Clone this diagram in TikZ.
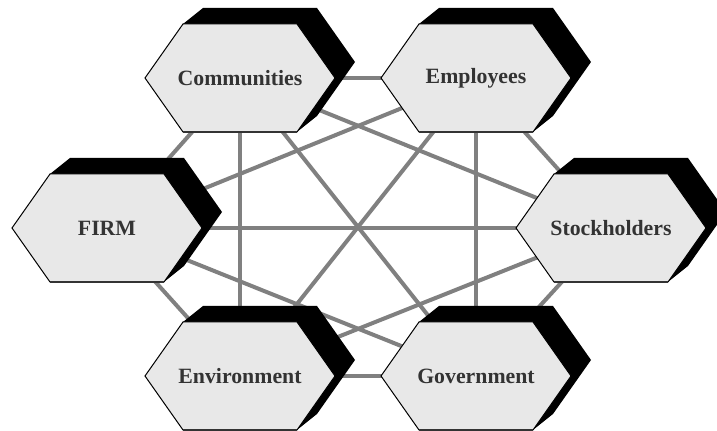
\documentclass[tikz,border=0pt]{standalone}
\usepackage{fontspec}
\setmainfont{Liberation Serif}
\usepackage{tikz}

\definecolor{hexgray}{RGB}{232,232,232}
\definecolor{linkgray}{RGB}{128,128,128}
\definecolor{textgray}{RGB}{51,51,51}

\pgfdeclarelayer{background}
\pgfdeclarelayer{boxes}
\pgfsetlayers{background,boxes,main}

% hexagon with black extrusion behind a named node
\newcommand\hexbox[1]{%
  \begin{pgfonlayer}{boxes}
    \begin{scope}[shift={(#1.center)}]
      \fill[black] (-57,54) -- (-37,70) -- (77,70) -- (115,16) -- (77,-38) -- (57,-54) -- cycle;
      \filldraw[fill=hexgray, draw=black, line width=0.5pt]
        (-95,0) -- (-57,54) -- (57,54) -- (95,0) -- (57,-54) -- (-57,-54) -- cycle;
      \draw[textgray, line width=0.8pt] (-57,-54) -- (57,-54);
    \end{scope}
  \end{pgfonlayer}}

\begin{document}
\begin{tikzpicture}[x=0.5pt,y=0.5pt,
    stakeholder/.style={font=\fontsize{10.9}{12}\selectfont\bfseries, text=textgray, inner sep=1pt},
    link/.style={draw=linkgray, line width=2pt}]
  \useasboundingbox (0,0) rectangle (717,431);

  \node[stakeholder] (comm)  at (240,353) {Communities};
  \node[stakeholder] (empl)  at (476,353) {Employees};
  \node[stakeholder] (firm)  at (107,203) {FIRM};
  \node[stakeholder] (stock) at (611,203) {Stockholders};
  \node[stakeholder] (env)   at (240,55)  {Environment};
  \node[stakeholder] (gov)   at (476,55)  {Government};

  \hexbox{comm}
  \hexbox{empl}
  \hexbox{firm}
  \hexbox{stock}
  \hexbox{env}
  \hexbox{gov}

  \begin{pgfonlayer}{background}
    \path[link]
      (comm.center) edge (empl.center)
      (comm.center) edge (firm.center)
      (comm.center) edge (stock.center)
      (comm.center) edge (env.center)
      (comm.center) edge (gov.center)

      (empl.center) edge (firm.center)
      (empl.center) edge (stock.center)
      (empl.center) edge (env.center)
      (empl.center) edge (gov.center)

      (firm.center) edge (stock.center)
      (firm.center) edge (env.center)
      (firm.center) edge (gov.center)

      (stock.center) edge (env.center)
      (stock.center) edge (gov.center)
      (env.center) edge (gov.center);
  \end{pgfonlayer}
\end{tikzpicture}
\end{document}
